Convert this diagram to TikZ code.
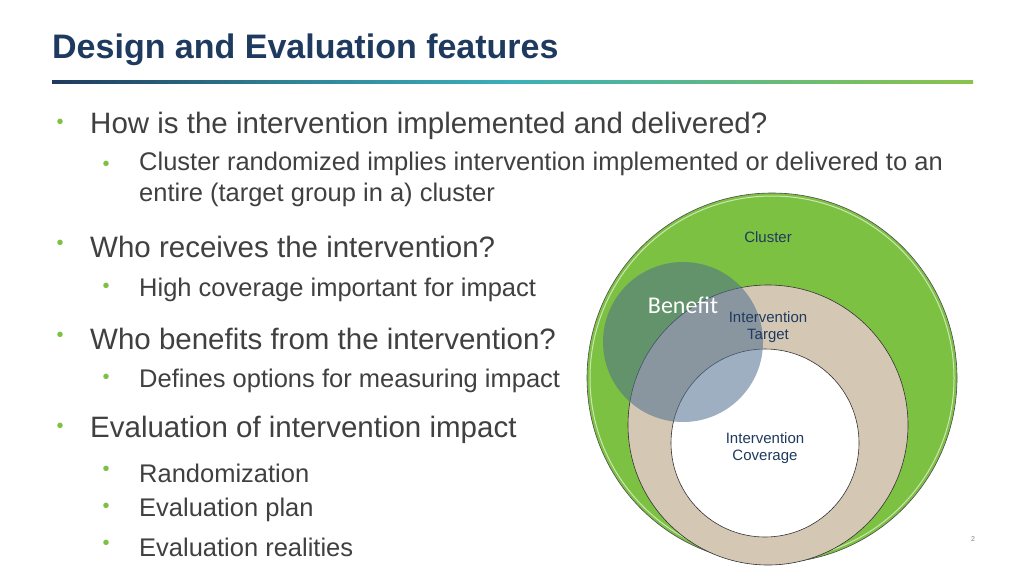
\documentclass[tikz,border=0pt]{standalone}
\usepackage{fontspec}
\setmainfont{Liberation Sans}
\newfontfamily\carl{Carlito}
\usetikzlibrary{positioning}
\definecolor{navy}{HTML}{1F3A5F}
\definecolor{txt}{HTML}{404040}
\definecolor{bgreen}{HTML}{7DC142}
\definecolor{tan}{HTML}{D4C8B4}
\definecolor{benef}{HTML}{4E6E8E}
\definecolor{teal}{HTML}{3AB0B8}
\definecolor{lgreen}{HTML}{8BC34A}
\tikzset{
  lone/.style={anchor=west,text=txt,font=\fontsize{29.5}{32}\selectfont,inner sep=0},
  ltwo/.style={anchor=west,text=txt,font=\fontsize{25.5}{31}\selectfont,inner sep=0,align=left},
  bul/.style={text=bgreen,font=\fontsize{20}{20}\selectfont,inner sep=0,minimum height=0pt,text height=5pt,text depth=0pt},
  lab/.style={text=navy,font=\fontsize{15}{16}\selectfont,align=center,inner sep=0},
}
\begin{document}
\begin{tikzpicture}[x=1pt,y=-1pt]
\useasboundingbox (0,0) rectangle (1024,576);
\fill[white] (0,0) rectangle (1024,576);
\node[anchor=west,text=navy,font=\bfseries\fontsize{34}{37}\selectfont,inner sep=0] (title) at (52,50) {Design and Evaluation features};
\shade[left color=navy,right color=teal,middle color=navy!40!teal] (52,80) rectangle (512,83);
\shade[left color=teal,right color=lgreen] (512,80) rectangle (973,83);
% bullets
\node[bul] (b1) at (60,126) {•}; \node[lone] (t1) at (90,126) {How is the intervention implemented and delivered?};
\node[bul] (b2) at (106,168) {•}; \node[ltwo,anchor=north west] (t2) at (139,152) {Cluster randomized implies intervention implemented or delivered to an\\entire (target group in a) cluster};
\node[bul] (b3) at (60,247) {•}; \node[lone] (t3) at (90,247) {Who receives the intervention?};
\node[bul] (b4) at (106,290) {•}; \node[ltwo] (t4) at (139,290) {High coverage important for impact};
\node[bul] (b5) at (60,339) {•}; \node[lone] (t5) at (90,339) {Who benefits from the intervention?};
\node[bul] (b6) at (106,381) {•}; \node[ltwo] (t6) at (139,381) {Defines options for measuring impact};
\node[bul] (b7) at (60,430) {•}; \node[lone] (t7) at (90,430) {Evaluation of intervention impact};
\node[bul] (b8) at (106,473) {•}; \node[ltwo] (t8) at (139,473) {Randomization};
\node[bul] (b9) at (106,510) {•}; \node[ltwo] (t9) at (139,510) {Evaluation plan};
\node[bul] (b10) at (106,547) {•}; \node[ltwo] (t10) at (139,547) {Evaluation realities};
% circles
\fill[bgreen] (772,378) circle (185);
\draw[black!70,line width=0.6pt] (772,378) circle (185);
\draw[white!60!bgreen,line width=1pt] (772,378) circle (182);
\fill[tan] (768,425) circle (140);
\draw[black!80,line width=0.6pt] (768,425) circle (140);
\fill[white] (765,443) circle (94);
\draw[black!80,line width=0.6pt] (765,443) circle (94);
\fill[benef,opacity=0.55] (683,342) circle (80);
\node[lab] (cl) at (768,237) {Cluster};
\node[lab,font=\fontsize{15}{17}\selectfont] (tg) at (768,327) {Intervention\\Target};
\node[lab,font=\fontsize{15}{17}\selectfont] (cv) at (765,448) {Intervention\\Coverage};
\node[text=white,font=\carl\fontsize{24}{26}\selectfont,inner sep=0] (bn) at (683,305) {Benefit};
\node[text=black!50,font=\fontsize{7}{8}\selectfont,inner sep=0] (pg) at (973,539) {2};
\end{tikzpicture}
\end{document}
